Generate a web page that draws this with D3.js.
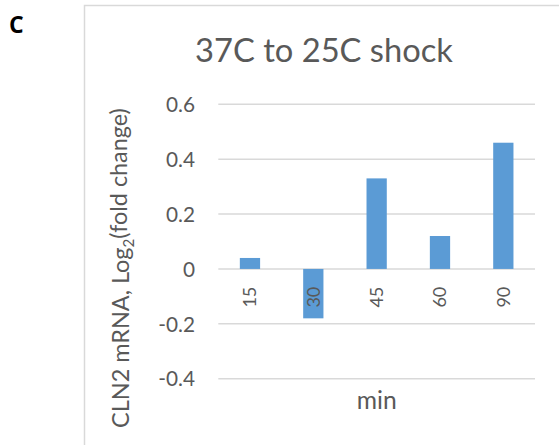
<!DOCTYPE html>
<html><head><meta charset="utf-8">
<script src="https://cdn.jsdelivr.net/npm/d3@7"></script>
<style>body{margin:0;background:#fff}svg{display:block}text{font-family:Lato,"Open Sans",sans-serif;fill:#595959}</style>
</head><body><svg id="c" width="559" height="445"></svg>
<script>
const categories = ["15","30","45","60","90"];
const values = [0.04,-0.18,0.33,0.12,0.46];
const yTicks = [-0.4,-0.2,0,0.2,0.4,0.6];
const title = "37C to 25C shock";
const xTitle = "min";
const panel = "C";

const svg = d3.select("#c");
function fit(sel, w){ // adjust font-size so width matches target
  const n = sel.node(); const fs = parseFloat(sel.attr("font-size"));
  const l = n.getComputedTextLength(); sel.attr("font-size", fs*w/l);
}
// frame
svg.append("path").attr("d","M84.5,445V5.5H559").attr("fill","none").attr("stroke","#d9d9d9").attr("stroke-width",1.5);
svg.append("text").text(panel).attr("x",9).attr("y",33).attr("font-size",23).attr("font-weight","bold").style("font-family","'Open Sans',sans-serif").style("fill","#000");

const x = d3.scaleBand().domain(categories).range([218.3,535]).paddingInner(0.68).paddingOuter(0.34);
const y = d3.scaleLinear().domain([-0.4,0.6]).range([378.7,104.3]);

const grid = svg.append("g");
grid.selectAll("line").data(yTicks).join("line")
  .attr("x1",218.3).attr("x2",535).attr("y1",d=>y(d)).attr("y2",d=>y(d))
  .attr("stroke","#d9d9d9").attr("stroke-width",1.4);

svg.append("g").selectAll("rect").data(values).join("rect")
  .attr("x",(d,i)=>x(categories[i])).attr("width",x.bandwidth())
  .attr("y",d=>y(Math.max(0,d))).attr("height",d=>Math.abs(y(d)-y(0)))
  .attr("fill","#5b9bd5");

const yAxis = d3.axisLeft(y).tickValues(yTicks).tickSize(0).tickPadding(0).tickFormat(d=>d===0?"0":d.toFixed(1));
const ga = svg.append("g").attr("transform","translate(195,0)").call(yAxis);
ga.select(".domain").remove();
ga.selectAll("text").attr("font-size",20).attr("dy","0.35em").style("fill","#595959");
ga.selectAll("text").each(function(d){ if(d===0.6) fit(d3.select(this),29); });
const fsY = ga.selectAll("text").filter(d=>d===0.6).attr("font-size");
ga.selectAll("text").attr("font-size",fsY);
ga.attr("font-size",null).attr("font-family",null);

const xAxis = d3.axisBottom(x).tickSize(0).tickPadding(0);
const gx = svg.append("g").attr("transform",`translate(0,${y(0)})`).call(xAxis);
gx.select(".domain").remove();
gx.attr("font-size",null).attr("font-family",null);
gx.selectAll("text").attr("font-size",19).attr("transform","rotate(-90)").attr("x",-17.7).attr("y",0).attr("dy","0.35em").attr("text-anchor","end").style("fill","#595959");
gx.selectAll("text").each(function(d){ if(d==="15") fit(d3.select(this),21); });
const fsX = gx.selectAll("text").filter(d=>d==="15").attr("font-size");
gx.selectAll("text").attr("font-size",fsX);

svg.append("text").text(title).attr("x",324).attr("y",61.5).attr("text-anchor","middle").attr("font-size",30).call(s=>fit(s,258));
svg.append("text").text(xTitle).attr("x",376.7).attr("y",409).attr("text-anchor","middle").attr("font-size",20).call(s=>fit(s,40));

const yl = svg.append("text").attr("transform","translate(129,268) rotate(-90)").attr("text-anchor","middle").attr("font-size",21);
yl.append("tspan").text("CLN2 mRNA, Log");
yl.append("tspan").text("2").attr("font-size","0.65em").attr("dy","0.3em");
yl.append("tspan").text("(fold change)").attr("dy","-0.3em");
fit(yl,320);
</script></body></html>
